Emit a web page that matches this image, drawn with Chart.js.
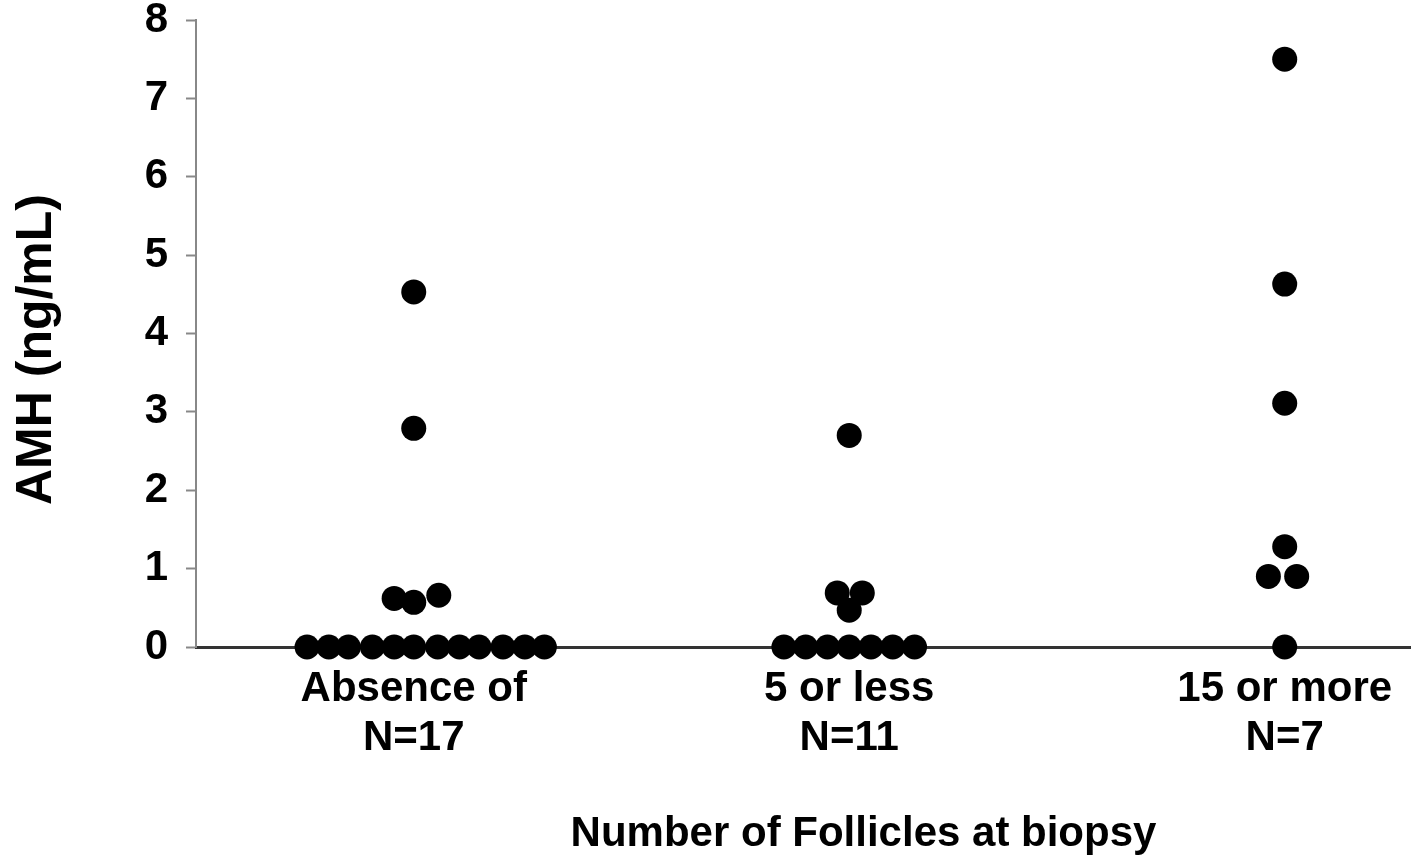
<!DOCTYPE html>
<html>
<head>
<meta charset="utf-8">
<script src="https://cdn.jsdelivr.net/npm/chart.js@4.4.1/dist/chart.umd.min.js"></script>
<style>
html,body{margin:0;padding:0;background:#fff;overflow:hidden;}
#wrap{position:relative;width:1411px;height:863px;overflow:hidden;}
</style>
</head>
<body>
<div id="wrap"><canvas id="c"></canvas></div>
<script>
// ---- data ----
const categories = [["Absence of", "N=17"], ["5 or less", "N=11"], ["15 or more", "N=7"]];

const absenceValues = [0,0,0,0,0,0,0,0,0,0,0,0, 0.62,0.57,0.66, 2.79, 4.53];
const absenceSlots  = [-4.9,-3.9,-3,-1.9,-0.9,0,1.1,2.1,3,4.1,5.1,6, -0.9,0,1.15, 0, 0];

const fiveOrLessValues = [0,0,0,0,0,0,0, 0.69,0.69,0.47, 2.70];
const fiveOrLessSlots  = [-3,-2,-1,0,1,2,3, -0.55,0.6,0, 0];

const fifteenOrMoreValues = [0, 0.90,0.90, 1.28, 3.11, 4.63, 7.50];
const fifteenOrMoreSlots  = [0, -0.75,0.55, 0, 0, 0, 0];

const yTickValues = [0,1,2,3,4,5,6,7,8];
const xTitle = "Number of Follicles at biopsy";
const yTitle = "AMH (ng/mL)";

// ---- presentation ----
const SLOT = 0.05; // dot spacing in category units
const FONT = "'Liberation Sans', Arial, Helvetica, sans-serif";

function toPoints(values, slots, groupIndex) {
  return values.map((v, i) => ({ x: groupIndex + 1 + slots[i] * SLOT, y: v }));
}

const groups = [
  [absenceValues, absenceSlots],
  [fiveOrLessValues, fiveOrLessSlots],
  [fifteenOrMoreValues, fifteenOrMoreSlots]
];

const datasets = groups.map((g, gi) => ({
  label: categories[gi].join(' '),
  data: toPoints(g[0], g[1], gi),
  pointRadius: 12.5,
  pointHoverRadius: 12.5,
  pointBackgroundColor: '#000',
  pointBorderWidth: 0,
  showLine: false,
  clip: false
}));

function shiftTitle(scale, dx, dy) {
  if (!scale || scale._titleShifted) return;
  scale._titleShifted = true;
  const orig = scale.drawTitle;
  scale.drawTitle = function () {
    this.left += dx; this.right += dx; this.top += dy; this.bottom += dy;
    orig.call(this);
    this.left -= dx; this.right -= dx; this.top -= dy; this.bottom -= dy;
  };
}

const titleShiftPlugin = {
  id: 'titleShift',
  afterLayout(chart) {
    shiftTitle(chart.scales.x, 60, 0);
    shiftTitle(chart.scales.y, 0, 16);
  }
};

new Chart(document.getElementById('c'), {
  type: 'scatter',
  data: { datasets },
  plugins: [titleShiftPlugin],
  options: {
    responsive: true,
    maintainAspectRatio: false,
    animation: false,
    events: [],
    layout: { autoPadding: false, padding: { top: 20, left: 0, right: 0, bottom: 0 } },
    plugins: { legend: { display: false }, tooltip: { enabled: false } },
    scales: {
      x: {
        type: 'linear',
        min: 0.5,
        max: 3.29,
        afterBuildTicks: (s) => { s.ticks = categories.map((c, i) => ({ value: i + 1 })); },
        afterFit: (s) => { s.height = 216; s.paddingLeft = 0; s.paddingRight = 0; },
        grid: { display: false, drawTicks: false },
        border: { display: true, color: '#333', width: 3 },
        ticks: {
          autoSkip: false,
          maxRotation: 0,
          minRotation: 0,
          padding: 18,
          color: '#000',
          font: { family: FONT, size: 42, weight: 'bold', lineHeight: 1.17 },
          callback: (v, i) => categories[i]
        },
        title: {
          display: true,
          text: xTitle,
          color: '#000',
          font: { family: FONT, size: 42, weight: 'bold', lineHeight: 1.2 },
          padding: { top: 0, bottom: 3 }
        }
      },
      y: {
        min: 0,
        max: 8,
        afterBuildTicks: (s) => { s.ticks = yTickValues.map(v => ({ value: v })); },
        afterFit: (s) => { s.width = 196; s.paddingTop = 0; s.paddingBottom = 0; },
        grid: { drawOnChartArea: false, drawTicks: true, tickLength: 10, tickColor: '#888', tickWidth: 2, color: '#888' },
        border: { display: true, color: '#888', width: 2 },
        ticks: {
          padding: 18,
          color: '#000',
          font: { family: FONT, size: 42, weight: 'bold' }
        },
        title: {
          display: true,
          text: yTitle,
          color: '#000',
          font: { family: FONT, size: 50, weight: 'bold', lineHeight: 1.2 },
          padding: { top: 7, bottom: 0 }
        }
      }
    }
  }
});
</script>
</body>
</html>
